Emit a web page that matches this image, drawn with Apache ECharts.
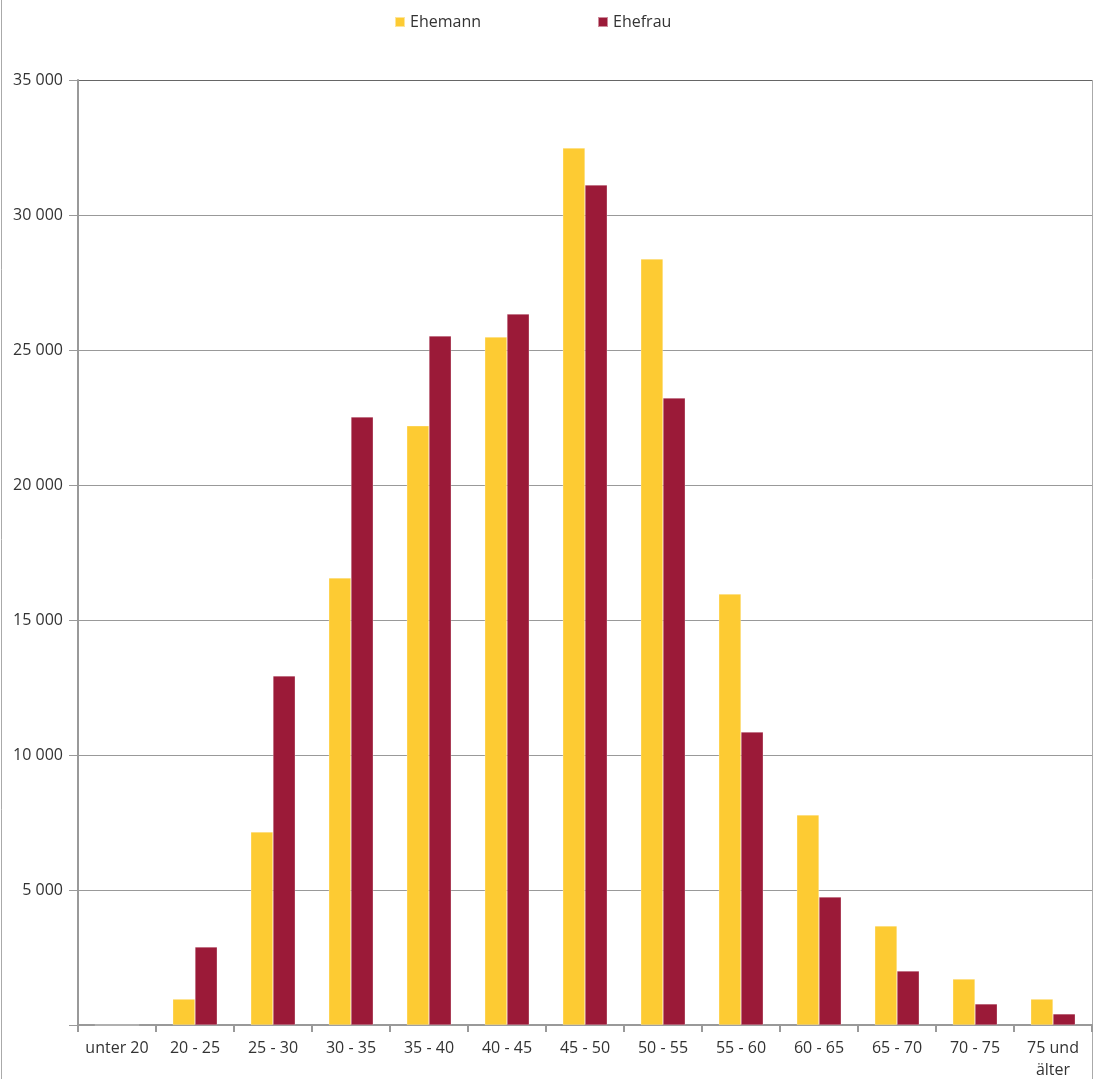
<!DOCTYPE html>
<html><head><meta charset="utf-8">
<script src="https://cdn.jsdelivr.net/npm/echarts@6/dist/echarts.min.js"></script>
<style>html,body{margin:0;padding:0;background:#fff}#c{width:1094px;height:1079px}</style>
</head><body><div id="c"></div>
<script>
const categories = ["unter 20","20 - 25","25 - 30","30 - 35","35 - 40","40 - 45","45 - 50","50 - 55","55 - 60","60 - 65","65 - 70","70 - 75","75 und älter"];
const ehemann = [0, 960, 7150, 16560, 22190, 25480, 32480, 28370, 15960, 7780, 3670, 1700, 960];
const ehefrau = [0, 2890, 12930, 22520, 25520, 26330, 31110, 23220, 10850, 4740, 2000, 780, 410];
const seriesNames = ["Ehemann","Ehefrau"];
const yTicks = [5000,10000,15000,20000,25000,30000,35000];

const chart = echarts.init(document.getElementById('c'), null, {renderer:'canvas'});
const font = '"Open Sans", "Noto Sans", sans-serif';
chart.setOption({
  animation:false,
  textStyle:{fontFamily:font},
  color:['#fdcb33','#9b1a38'],
  legend:{
    left:389, top:9, itemWidth:10, itemHeight:10, itemGap:116, icon:'rect',
    textStyle:{fontSize:16,color:'#333',fontFamily:font},
    data:seriesNames
  },
  grid:{left:78, right:2, top:80, bottom:54, containLabel:false, outerBoundsMode:'none'},
  xAxis:{
    type:'category', data:categories,
    axisLine:{lineStyle:{color:'#999',width:2}},
    axisTick:{show:true,length:7,lineStyle:{color:'#999',width:2}},
    axisLabel:{fontSize:16,color:'#333',margin:12,lineHeight:22,interval:0,
      formatter:v=>v.replace(' und ',' und\n')}
  },
  yAxis:{
    type:'value', min:0, max:35000, interval:5000,
    axisLine:{show:true,lineStyle:{color:'#999',width:2}},
    axisTick:{show:true,length:9,lineStyle:{color:'#999',width:1}},
    splitLine:{lineStyle:{color:['#999','#999','#999','#999','#999','#999','#999','#666'],width:1}},
    axisLabel:{fontSize:16,color:'#333',margin:15,
      formatter:v=>yTicks.includes(v)? String(v).replace(/\B(?=(\d{3})+(?!\d))/g,' ') : ''}
  },
  graphic:[
    {type:'line',shape:{x1:1.5,y1:0,x2:1.5,y2:1079},style:{stroke:'#aaa',lineWidth:1}},
    {type:'line',shape:{x1:1092.5,y1:80,x2:1092.5,y2:1079},style:{stroke:'#aaa',lineWidth:1}}
  ],
  series:[
    {name:seriesNames[0],type:'bar',data:ehemann,barGap:'0%',barCategoryGap:'43%',
      itemStyle:{borderColor:'rgba(255,255,255,0.5)',borderWidth:0.5}},
    {name:seriesNames[1],type:'bar',data:ehefrau,barGap:'0%',barCategoryGap:'43%',
      itemStyle:{borderColor:'rgba(255,255,255,0.5)',borderWidth:0.5}}
  ]
});
</script></body></html>
